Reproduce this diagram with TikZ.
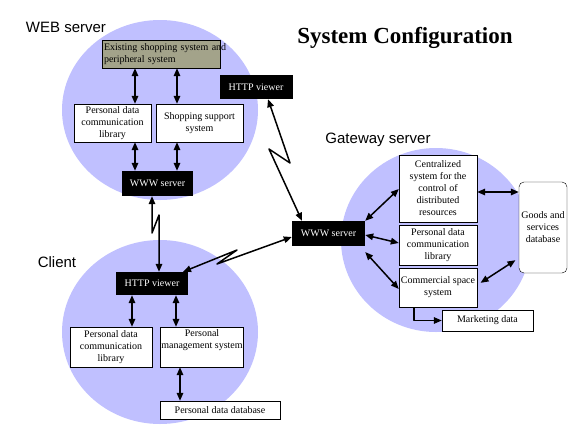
\documentclass[tikz,border=0pt]{standalone}
\usepackage{fontspec}
\setmainfont{Liberation Serif}
\newfontfamily\zonefont{Liberation Sans}
\usetikzlibrary{arrows.meta}
\usetikzlibrary{positioning}
\usetikzlibrary{shapes}
\definecolor{area}{RGB}{192,192,255}
\definecolor{olive}{RGB}{163,163,138}
\tikzset{every picture/.style={x=1pt, y=-1pt, >={Triangle[length=8pt,width=6.5pt]}}}
\tikzstyle{block}      = [draw, fill=white, rectangle, inner sep=1pt, align=center, font=\fontsize{10}{12}\selectfont]
\tikzstyle{blackblock} = [fill=black, text=white, rectangle, inner sep=1pt, font=\fontsize{10}{12}\selectfont]
\tikzstyle{zone}       = [ellipse, fill=area, inner sep=0pt]
\tikzstyle{zonelabel}  = [font=\zonefont\fontsize{15}{17}\selectfont]
\tikzstyle{to}         = [->, line width=1.5pt, line join=round]
\tikzstyle{toto}       = [<->, line width=1.5pt, line join=round]

\begin{document}
\begin{tikzpicture}
	\useasboundingbox (0,0) rectangle (576,432);
	\node[zone, minimum width=196, minimum height=180] (webarea)    at (160,110) {};
	\node[zone, minimum width=196, minimum height=184] (clientarea) at (160,332) {};
	\node[zone, minimum width=190, minimum height=184] (gwarea)     at (436,240) {};

	\node[font=\bfseries\fontsize{23}{27}\selectfont] (title) at (405,38) {System Configuration};
	\node[zonelabel] (weblabel)    at (66,27)   {WEB server};
	\node[zonelabel] (clientlabel) at (57,262)  {Client};
	\node[zonelabel] (gwlabel)     at (378,140) {Gateway server};

	% WEB server
	\node[block, fill=olive, align=left, inner sep=2pt, text width=114, minimum height=28] (shop) at (161,54) {\mbox{Existing shopping system and}\\peripheral system};
	\node[block, minimum width=77, minimum height=38]   (webpdl)  at (112.5,123) {Personal data\\communication\\library};
	\node[block, minimum width=87, minimum height=38]   (support) at (199.5,123) {Shopping support\\system};
	\node[blackblock, minimum width=71, minimum height=25] (webwww)  at (157.5,183.5) {WWW server};
	\node[blackblock, minimum width=73, minimum height=24] (webhttp) at (256,87) {HTTP viewer};

	% Client
	\node[blackblock, minimum width=72, minimum height=23] (clienthttp) at (152,283.5) {HTTP viewer};
	\node[block, minimum width=82, minimum height=40]   (clientpdl) at (111,347) {Personal data\\communication\\library};
	\node[block, minimum width=82, minimum height=40]   (manage)    at (202,347) {Personal\\management system\\\strut};
	\node[block, minimum width=120, minimum height=18]  (clientdb)  at (220,410) {Personal data database};

	% Gateway server
	\node[blackblock, minimum width=73, minimum height=25] (gwwww) at (328.5,233.5) {WWW server};
	\node[block, minimum width=78, minimum height=67]   (control)  at (438,188.5) {Centralized\\system for the\\control of\\distributed\\resources};
	\node[block, minimum width=78, minimum height=40]   (gwpdl)    at (438,245)   {Personal data\\communication\\library};
	\node[block, minimum width=78, minimum height=39]   (commerce) at (438,287.5) {Commercial space\\system};
	\node[block, rounded corners=5pt, minimum width=48, minimum height=91] (goods) at (543,227.5) {Goods and\\services\\database};
	\node[block, minimum width=91, minimum height=21]   (market)   at (487.5,320.5) {Marketing data};

	\draw[toto] (shop.south -| 135,0) -- (webpdl.north -| 135,0);
	\draw[toto] (shop.south -| 177,0) -- (support.north -| 177,0);
	\draw[toto] (webpdl.south -| 135,0) -- (webwww.north -| 135,0);
	\draw[toto] (support.south -| 177,0) -- (webwww.north -| 177,0);

	\draw[toto] (clienthttp.south -| 132,0) -- (clientpdl.north -| 132,0);
	\draw[toto] (clienthttp.south -| 176,0) -- (manage.north -| 176,0);
	\draw[toto] (manage.south -| 180,0) -- (clientdb.north -| 180,0);

	\draw[toto] (gwwww.north east) -- (control.west |- 0,189);
	\draw[toto] (gwwww.east |- 0,235) -- (gwpdl.west |- 0,243);
	\draw[toto] (gwwww.east |- 0,252) -- (commerce.west |- 0,289);
	\draw[toto] (control.east |- 0,192) -- (goods.west |- 0,192);
	\draw[toto, shorten <=4pt, shorten >=4pt] (commerce.east |- 0,285) -- (goods.west |- 0,258);
	\draw[to] (commerce.south -| 414,0) |- (market.west);

	\draw[toto] (webhttp.south -| 268,0) -- (290,163) -- (269,149) -- (gwwww.north -| 302,0);
	\draw[toto] (webwww.south -| 152,0) -- (152,233) -- (159,215) -- (clienthttp.north -| 159,0);
	\draw[toto] (clienthttp.north -| 183,0) -- (237,250) -- (217,264) -- (gwwww.west |- 0,237);
\end{tikzpicture}
\end{document}
